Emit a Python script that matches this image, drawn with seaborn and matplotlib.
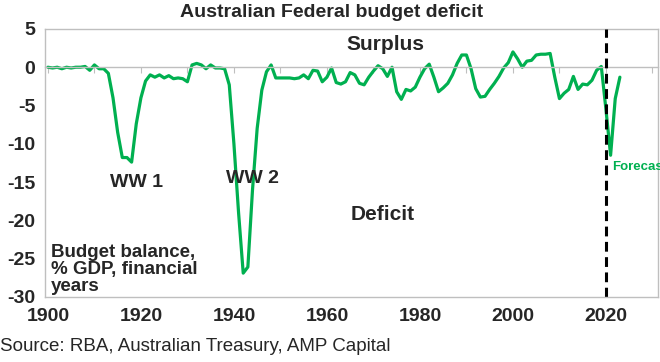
import matplotlib
matplotlib.use('Agg')
import matplotlib.pyplot as plt
import pandas as pd
import seaborn as sns

# budget balance, % of GDP, financial years
years = list(range(1900, 2024))
balance = [
    0.0, -0.1, 0.0, -0.2, 0.0, -0.1, 0.0, 0.0, 0.1, -0.4,      # 1900s
    0.3, -0.2, -0.2, -0.8, -4.0, -8.5, -11.8, -11.8, -12.4, -7.4,  # 1910s
    -4.0, -1.8, -1.0, -1.3, -1.0, -1.4, -1.1, -1.5, -1.4, -1.5,  # 1920s
    -1.9, 0.3, 0.5, 0.3, -0.2, 0.3, -0.1, -0.1, -0.2, -2.3,     # 1930s
    -10.0, -19.0, -26.9, -26.1, -16.0, -8.0, -3.0, -0.6, 0.3, -1.4,  # 1940s
    -1.4, -1.4, -1.4, -1.5, -1.4, -1.0, -1.5, -0.4, -0.5, -1.9,  # 1950s
    -1.3, -0.1, -2.0, -2.2, -1.9, -0.7, -1.0, -2.1, -2.3, -1.3,  # 1960s
    -0.5, 0.2, -0.2, -1.2, 0.0, -3.2, -4.2, -2.9, -3.1, -2.6,   # 1970s
    -1.3, -0.2, 0.4, -1.3, -3.2, -2.7, -2.1, -1.0, 0.5, 1.6,    # 1980s
    1.6, -0.2, -2.8, -3.9, -3.8, -2.9, -2.1, -1.2, -0.1, 0.6,   # 1990s
    2.0, 1.1, 0.0, 0.8, 0.9, 1.6, 1.7, 1.7, 1.8, -1.3,          # 2000s
    -4.1, -3.4, -2.9, -1.2, -2.9, -2.2, -2.3, -1.7, -0.4, 0.1,  # 2010s
    -5.5, -11.5, -4.1, -1.3,                                    # 2020s (forecast)
]
forecast_start = 2020
x_labels = [1900, 1920, 1940, 1960, 1980, 2000, 2020]
x_minor = list(range(1900, 2031, 10))
y_ticks = [5, 0, -5, -10, -15, -20, -25, -30]

GREEN = '#00B050'
GREY = '#BFBFBF'

sns.set_style('white')
plt.rcParams['font.family'] = ['Liberation Sans', 'DejaVu Sans']
plt.rcParams['axes.unicode_minus'] = False

df = pd.DataFrame({'year': years, 'balance': balance})

fig = plt.figure(figsize=(6.6, 3.62), dpi=100)
ax = fig.add_axes([0.068, 0.18, 0.929, 0.74])

sns.lineplot(data=df, x='year', y='balance', color=GREEN, lw=2.3, ax=ax)
ax.axvline(forecast_start, color='black', lw=2.2, ls=(0, (3.2, 1.8)), zorder=3)

ax.set_xlim(1899.35, 2031.2)
ax.set_ylim(-30, 5)
ax.set_xlabel('')
ax.set_ylabel('')

# zero line carries the tick marks
ax.spines['bottom'].set_position(('data', 0))
for side in ['bottom', 'top', 'left', 'right']:
    ax.spines[side].set_color(GREY)
    ax.spines[side].set_linewidth(1.0)
ax.set_xticks(x_minor)
ax.tick_params(axis='x', direction='out', length=4, color=GREY, labelbottom=False)
ax.set_yticks(y_ticks)
ax.tick_params(axis='y', direction='out', length=4, color=GREY, pad=3, labelsize=14)
for lab in ax.get_yticklabels():
    lab.set_fontweight('bold')

# year labels sit under the plot frame
ax2 = ax.twiny()
ax2.set_xlim(ax.get_xlim())
ax2.set_xticks(x_labels)
ax2.xaxis.set_ticks_position('bottom')
ax2.xaxis.set_label_position('bottom')
ax2.tick_params(axis='x', length=0, pad=8, labelsize=14)
for lab in ax2.get_xticklabels():
    lab.set_fontweight('bold')
for side in ['top', 'left', 'right']:
    ax2.spines[side].set_visible(False)
ax2.spines['bottom'].set_color(GREY)
ax2.spines['bottom'].set_linewidth(1.0)

ax.text(1972.5, 3.0, 'Surplus', ha='center', va='center', fontsize=15, fontweight='bold')
ax.text(1972, -19.3, 'Deficit', ha='center', va='center', fontsize=15, fontweight='bold')
ax.text(1919.1, -15.1, 'WW 1', ha='center', va='center', fontsize=14, fontweight='bold')
ax.text(1943.9, -14.6, 'WW 2', ha='center', va='center', fontsize=14, fontweight='bold')
ax.text(1900.6, -29.7, 'Budget balance,\n% GDP, financial\nyears', ha='left', va='bottom',
        linespacing=1.0, fontsize=13.5, fontweight='bold')
# runs off the right edge, as in the source chart
ax.text(2021.3, -13.1, 'Forecast', ha='left', va='center', fontsize=9.5,
        fontweight='bold', color=GREEN, clip_on=False)

fig.text(0.503, 0.966, 'Australian Federal budget deficit', ha='center', va='center',
         fontsize=14, fontweight='bold')
fig.text(0.0, 0.044, 'Source: RBA, Australian Treasury, AMP Capital', ha='left', va='center',
         fontsize=13.5)

fig.savefig('out.png', dpi=100)
